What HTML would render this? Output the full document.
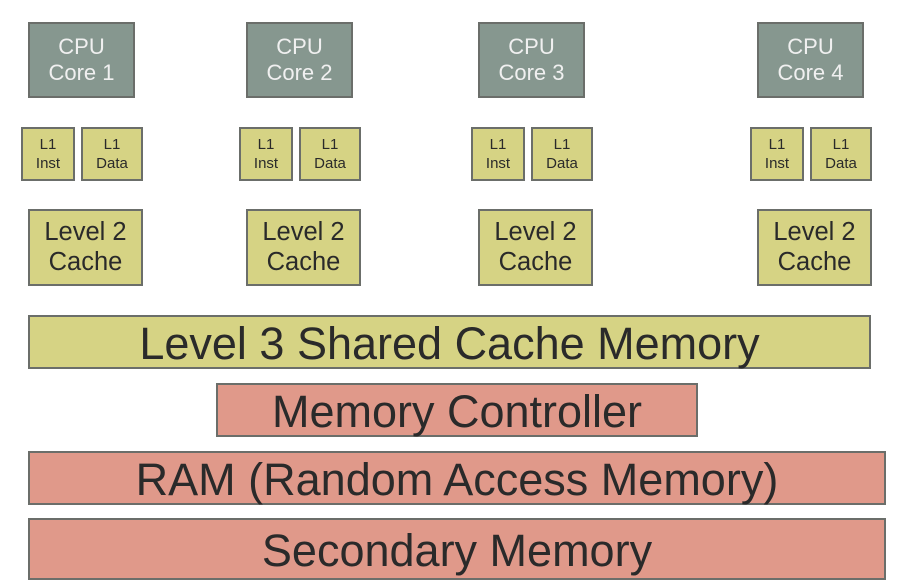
<!DOCTYPE html>
<html><head><style>
body{margin:0;width:909px;height:585px;background:#fff;position:relative;overflow:hidden;font-family:"Liberation Sans",sans-serif}
.b{position:absolute;box-sizing:border-box;border:2px solid #6b6e6a;display:flex;align-items:center;justify-content:center;text-align:center;color:#2a2a2a;line-height:1.15}
.c{background:#86978f;color:#f0f0f0;font-size:22px;line-height:1.2}
.y{background:#d6d384}
.p{background:#e0998a}
.l1{font-size:15px;line-height:1.3}
.l2{font-size:25.5px;line-height:1.15}
.big{font-size:45px;padding-top:3px}
</style></head><body>
<div class="b c" style="left:28px;top:22px;width:107px;height:76px">CPU<br>Core 1</div>
<div class="b c" style="left:246px;top:22px;width:107px;height:76px">CPU<br>Core 2</div>
<div class="b c" style="left:478px;top:22px;width:107px;height:76px">CPU<br>Core 3</div>
<div class="b c" style="left:757px;top:22px;width:107px;height:76px">CPU<br>Core 4</div>

<div class="b y l1" style="left:21px;top:127px;width:54px;height:54px">L1<br>Inst</div>
<div class="b y l1" style="left:81px;top:127px;width:62px;height:54px">L1<br>Data</div>
<div class="b y l1" style="left:239px;top:127px;width:54px;height:54px">L1<br>Inst</div>
<div class="b y l1" style="left:299px;top:127px;width:62px;height:54px">L1<br>Data</div>
<div class="b y l1" style="left:471px;top:127px;width:54px;height:54px">L1<br>Inst</div>
<div class="b y l1" style="left:531px;top:127px;width:62px;height:54px">L1<br>Data</div>
<div class="b y l1" style="left:750px;top:127px;width:54px;height:54px">L1<br>Inst</div>
<div class="b y l1" style="left:810px;top:127px;width:62px;height:54px">L1<br>Data</div>

<div class="b y l2" style="left:28px;top:209px;width:115px;height:77px">Level 2<br>Cache</div>
<div class="b y l2" style="left:246px;top:209px;width:115px;height:77px">Level 2<br>Cache</div>
<div class="b y l2" style="left:478px;top:209px;width:115px;height:77px">Level 2<br>Cache</div>
<div class="b y l2" style="left:757px;top:209px;width:115px;height:77px">Level 2<br>Cache</div>

<div class="b y big" style="left:28px;top:315px;width:843px;height:54px">Level 3 Shared Cache Memory</div>
<div class="b p big" style="left:216px;top:383px;width:482px;height:54px">Memory Controller</div>
<div class="b p big" style="left:28px;top:451px;width:858px;height:54px">RAM (Random Access Memory)</div>
<div class="b p big" style="left:28px;top:518px;width:858px;height:62px">Secondary Memory</div>
</body></html>
